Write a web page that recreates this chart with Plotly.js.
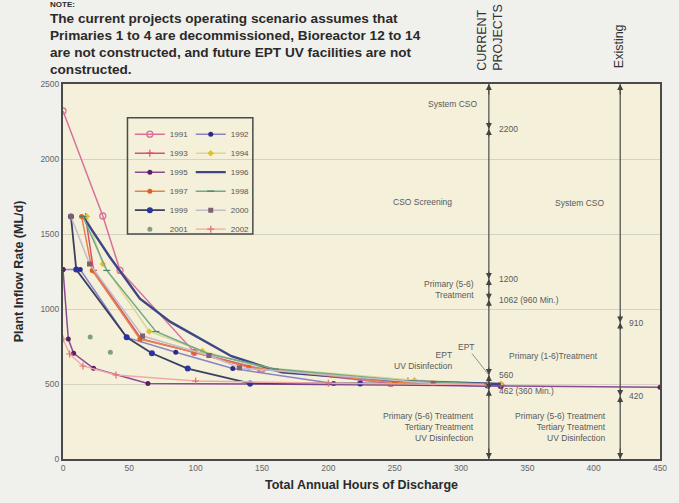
<!DOCTYPE html>
<html>
<head>
<meta charset="utf-8">
<script src="https://cdn.plot.ly/plotly-3.0.1.min.js"></script>
<style>
  html, body { margin: 0; padding: 0; background: #efefea; }
  #chart { width: 679px; height: 503px; }
</style>
</head>
<body>
<div id="chart"></div>
<script>
// ---------------- data ----------------
const years = ['1991','1992','1993','1994','1995','1996','1997','1998','1999','2000','2001','2002'];

const x1991 = [0, 30, 43, 99, 150, 247, 330];
const y1991 = [2320, 1620, 1257, 712, 600, 504, 490];
const x1992 = [0, 13, 48, 85, 128, 204, 330];
const y1992 = [1263, 1263, 811, 712, 603, 504, 485];
const x1993 = [17, 23, 59, 99, 147, 260, 330];
const y1993 = [1617, 1257, 800, 712, 598, 520, 495];
const x1994 = [18, 30, 65, 105, 150, 265, 330];
const y1994 = [1617, 1300, 850, 720, 610, 525, 500];
const x1995 = [0, 4, 8, 23, 64, 141, 450];
const y1995 = [1263, 800, 705, 605, 504, 500, 478];
const x1996 = [15, 35, 58, 81, 127, 165, 250, 330];
const y1996 = [1617, 1350, 1069, 914, 685, 578, 520, 500];
const x1997 = [14, 22, 58, 99, 140, 250, 320];
const y1997 = [1617, 1257, 800, 712, 611, 510, 495];
const x1998 = [15, 33, 70, 110, 160, 260, 320];
const y1998 = [1617, 1257, 850, 700, 600, 520, 500];
const x1999 = [6, 10, 48, 67, 94, 141, 224, 320];
const y1999 = [1617, 1263, 811, 705, 603, 504, 504, 490];
const x2000 = [6, 20, 60, 110, 133, 279, 320];
const y2000 = [1617, 1300, 820, 690, 608, 504, 495];
const x2001 = [20.5, 35.7];
const y2001 = [813, 712];
const x2002 = [0, 5, 15, 40, 100, 200, 320];
const y2002 = [800, 700, 620, 560, 520, 505, 495];

const seriesX = [x1991, x1992, x1993, x1994, x1995, x1996, x1997, x1998, x1999, x2000, x2001, x2002];
const seriesY = [y1991, y1992, y1993, y1994, y1995, y1996, y1997, y1998, y1999, y2000, y2001, y2002];

// scenario levels (ML/d)
const currentX = 321;
const existingX = 420;
const currentLevels = [2200, 1200, 1062, 560, 462];
const existingLevels = [910, 420];
const topLevel = 2500;
const bottomLevel = 0;

const xTicks = [0, 50, 100, 150, 200, 250, 300, 350, 400, 450];
const yTicks = [0, 500, 1000, 1500, 2000, 2500];

const noteLines = [
  'NOTE:',
  'The current projects operating scenario assumes that',
  'Primaries 1 to 4 are decommissioned, Bioreactor 12 to 14',
  'are not constructed, and future EPT UV facilities are not',
  'constructed.'
];

// ---------------- styles ----------------
const styles = {
  '1991': {line: '#d9709a', width: 1.5, mode: 'lines+markers', marker: {symbol: 'circle-open', size: 6, color: '#d9709a', line: {width: 1.3}}},
  '1992': {line: '#8a84c4', width: 1.5, mode: 'lines+markers', marker: {symbol: 'circle', size: 5, color: '#2a2a88'}},
  '1993': {line: '#d8506e', width: 1.5, mode: 'lines+markers', marker: {symbol: 'cross-thin-open', size: 5, color: '#d8506e', line: {width: 1.2, color: '#d8506e'}}},
  '1994': {line: '#d8d890', width: 1.5, mode: 'lines+markers', marker: {symbol: 'diamond', size: 5, color: '#e0c030'}},
  '1995': {line: '#8a4a94', width: 1.5, mode: 'lines+markers', marker: {symbol: 'circle', size: 5, color: '#5a2064'}},
  '1996': {line: '#3e4684', width: 2.4, mode: 'lines'},
  '1997': {line: '#e8804a', width: 1.5, mode: 'lines+markers', marker: {symbol: 'circle', size: 5, color: '#e06020'}},
  '1998': {line: '#70a888', width: 1.5, mode: 'lines+markers', marker: {symbol: 'line-ew-open', size: 5, color: '#50806a', line: {width: 1.2, color: '#50806a'}}},
  '1999': {line: '#3a4060', width: 1.8, mode: 'lines+markers', marker: {symbol: 'circle', size: 6, color: '#2a34a0'}},
  '2000': {line: '#c0bccc', width: 1.5, mode: 'lines+markers', marker: {symbol: 'square', size: 5, color: '#806070'}},
  '2001': {mode: 'markers', marker: {symbol: 'circle', size: 5, color: '#80a080'}},
  '2002': {line: '#f2a8a8', width: 1.3, mode: 'lines+markers', marker: {symbol: 'cross-thin-open', size: 5, color: '#e07070', line: {width: 1.2, color: '#e07070'}}}
};

const textColor = '#555555';
const smallFont = {family: 'Liberation Sans, Arial, sans-serif', size: 8.5, color: '#5a5a5a'};

// ---------------- traces ----------------
const traces = years.map((yr, i) => {
  const s = styles[yr];
  const t = {
    type: 'scatter',
    x: seriesX[i],
    y: seriesY[i],
    name: yr,
    mode: s.mode,
    legend: (i % 2 === 0) ? 'legend' : 'legend2',
    hoverinfo: 'x+y+name'
  };
  if (s.line) t.line = {color: s.line, width: s.width};
  if (s.marker) t.marker = s.marker;
  return t;
});

// ---------------- shapes ----------------
const shapes = [
  {type: 'line', xref: 'x', yref: 'y', x0: currentX, x1: currentX, y0: bottomLevel, y1: topLevel, line: {color: '#4a4a4a', width: 1.2}},
  {type: 'line', xref: 'x', yref: 'y', x0: existingX, x1: existingX, y0: bottomLevel, y1: topLevel, line: {color: '#4a4a4a', width: 1.2}},
  // legend box
  {type: 'rect', xref: 'paper', yref: 'paper', x0: 0.108, x1: 0.318, y0: 0.6, y1: 0.91, line: {color: '#4a4a4a', width: 1.5}, fillcolor: 'rgba(0,0,0,0)', layer: 'above'}
];

// ---------------- annotations ----------------
const annotations = [];
function arrow(x, y, dy) {
  annotations.push({x: x, y: y, xref: 'x', yref: 'y', text: '', showarrow: true,
    arrowhead: 2, arrowsize: 1.2, arrowwidth: 1, arrowcolor: '#444', ax: 0, ay: dy});
}
[currentX, existingX].forEach(x => { arrow(x, topLevel, 12); arrow(x, bottomLevel, -12); });
currentLevels.forEach(l => { arrow(currentX, l, -9); arrow(currentX, l, 9); });
existingLevels.forEach(l => { arrow(existingX, l, -9); arrow(existingX, l, 9); });

function label(text, x, y, xanchor, align) {
  annotations.push({x: x, y: y, xref: 'x', yref: 'y', text: text, showarrow: false,
    xanchor: xanchor, yanchor: 'middle', align: align || xanchor, font: smallFont});
}
label('System CSO', 314, 2366, 'right');
label('2200', 327, 2200, 'left');
label('CSO Screening', 271, 1712, 'center');
label('System CSO', 390, 1707, 'center');
label('1200', 327, 1200, 'left');
label('Primary (5-6)<br>Treatment', 311, 1131, 'right');
label('1062 (960 Min.)', 327, 1062, 'left');
label('910', 425, 910, 'left');
label('EPT<br>UV Disinfection', 295, 657, 'right');
label('Primary (1-6)Treatment', 370, 685, 'center');
label('560', 327, 560, 'left');
label('462 (360 Min.)', 327, 455, 'left');
label('420', 425, 420, 'left');
label('Primary (5-6) Treatment<br>Tertiary Treatment<br>UV Disinfection', 311, 215, 'right');
label('Primary (5-6) Treatment<br>Tertiary Treatment<br>UV Disinfection', 411, 215, 'right');
annotations.push({x: currentX, y: 560, xref: 'x', yref: 'y', text: 'EPT', showarrow: true,
  arrowhead: 0, arrowwidth: 0.8, arrowcolor: '#777', ax: -22, ay: -28, font: smallFont});

// note text (top)
const noteSizes = [8, 13.6, 13.6, 13.6, 13.6];
const noteY = [4.3, 18.5, 35.5, 52.5, 69.5];
noteLines.forEach((t, i) => {
  annotations.push({xref: 'paper', yref: 'paper', x: (48 - 63) / 597, y: 1 + (84 - noteY[i]) / 375,
    text: '<b>' + t + '</b>', showarrow: false, xanchor: 'left', yanchor: 'middle',
    font: {family: 'Liberation Sans, Arial, sans-serif', size: noteSizes[i], color: '#2a2a2a'}});
});

// rotated scenario headers
const headFont = {family: 'Liberation Sans, Arial, sans-serif', size: 12.5, color: '#333'};
annotations.push({xref: 'x', yref: 'paper', x: currentX, y: 1 + (84 - 37) / 375, text: 'CURRENT<br>PROJECTS',
  textangle: -90, showarrow: false, xanchor: 'center', yanchor: 'middle', align: 'left', font: headFont, xshift: 1});
annotations.push({xref: 'x', yref: 'paper', x: existingX, y: 1 + (84 - 46) / 375, text: 'Existing',
  textangle: -90, showarrow: false, xanchor: 'center', yanchor: 'middle', font: headFont, xshift: -1});

// ---------------- layout ----------------
const layout = {
  width: 679, height: 503,
  margin: {l: 63, r: 19, t: 84, b: 44},
  paper_bgcolor: '#f0f0ec',
  plot_bgcolor: '#f4f0da',
  font: {family: 'Liberation Sans, Arial, sans-serif', color: textColor},
  showlegend: true,
  xaxis: {
    range: [0, 450], tickvals: xTicks, ticktext: xTicks.map(String),
    showgrid: false, zeroline: false,
    showline: true, mirror: true, linecolor: '#4a4a4a', linewidth: 2,
    tickfont: {size: 8.5, color: '#666'},
    title: {text: '<b>Total Annual Hours of Discharge</b>', font: {size: 12.5, color: '#2a2a2a'}, standoff: 8}
  },
  yaxis: {
    range: [0, 2500], tickvals: yTicks, ticktext: yTicks.map(String),
    showgrid: true, gridcolor: '#d6d3c2', gridwidth: 1, zeroline: false,
    showline: true, mirror: true, linecolor: '#4a4a4a', linewidth: 2,
    tickfont: {size: 8.5, color: '#666'},
    title: {text: '<b>Plant Inflow Rate (ML/d)</b>', font: {size: 12.5, color: '#2a2a2a'}, standoff: 14}
  },
  legend: {
    x: 0.112, y: 0.905, xanchor: 'left', yanchor: 'top',
    bgcolor: 'rgba(0,0,0,0)', borderwidth: 0,
    font: {size: 8, color: '#555'}, itemwidth: 30, tracegroupgap: 0
  },
  legend2: {
    x: 0.214, y: 0.905, xanchor: 'left', yanchor: 'top',
    bgcolor: 'rgba(0,0,0,0)', borderwidth: 0,
    font: {size: 8, color: '#555'}, itemwidth: 30, tracegroupgap: 0
  },
  shapes: shapes,
  annotations: annotations
};

Plotly.newPlot('chart', traces, layout, {displayModeBar: false, staticPlot: true});
</script>
</body>
</html>
